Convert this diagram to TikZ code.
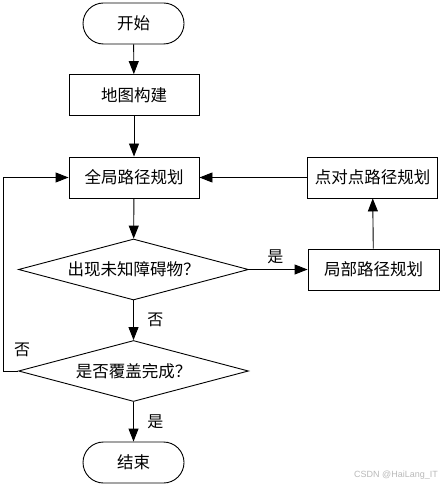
\documentclass[tikz,border=0pt]{standalone}
\usepackage{fontspec}
\setmainfont{Noto Sans CJK SC}
\newfontfamily\wmfont{Liberation Sans}
\usetikzlibrary{shapes.geometric,arrows.meta}
\begin{document}
\begin{tikzpicture}[x=1pt,y=-1pt,
  every node/.style={font=\fontsize{16.5}{18}\selectfont},
  line/.style={line width=0.9pt,-{Triangle[length=13pt,width=10pt]}},
  procbox/.style={draw,line width=0.9pt,minimum width=130pt,minimum height=41pt,inner sep=0pt},
  termbox/.style={draw,line width=0.9pt,rounded corners=20.5pt,minimum width=101pt,minimum height=41pt,inner sep=0pt},
  decbox/.style={draw,line width=0.9pt,diamond,aspect=3.7,minimum width=230pt,minimum height=61pt,inner sep=0pt},
  lbl/.style={font=\fontsize{16}{18}\selectfont}]
\useasboundingbox (0,0) rectangle (441,486);
\node[termbox] (start) at (133.5,23.5) {开始};
\node[procbox] (map) at (134,95) {地图构建};
\node[procbox] (global) at (134,177.5) {全局路径规划};
\node[procbox] (p2p) at (372.5,177.5) {点对点路径规划};
\node[decbox] (d1) at (133.5,269.5) {出现未知障碍物？};
\node[procbox,minimum width=131pt] (local) at (373.5,269.5) {局部路径规划};
\node[decbox] (d2) at (133.5,371) {是否覆盖完成？};
\node[termbox] (end) at (133.5,462.5) {结束};
\coordinate (lx) at (3,371);
\draw[line] (start) -- (map);
\draw[line] (map) -- (global);
\draw[line] (global) -- (d1);
\draw[line] (d1) -- (local) node[lbl,pos=0.45,above=2pt] {是};
\draw[line] (local) -- (p2p);
\draw[line] (p2p) -- (global);
\draw[line] (d1) -- (d2) node[lbl,midway,right=10pt] {否};
\draw[line] (d2) -- (end) node[lbl,midway,right=10pt] {是};
\draw[line] (d2.west) -- (lx) |- (global.west);
\node[lbl] (no2) at (22,350) {否};
\node[font=\wmfont\fontsize{9}{10}\selectfont,text=gray!55] (wm) at (396,475) {CSDN @HaiLang\_IT};
\end{tikzpicture}
\end{document}
